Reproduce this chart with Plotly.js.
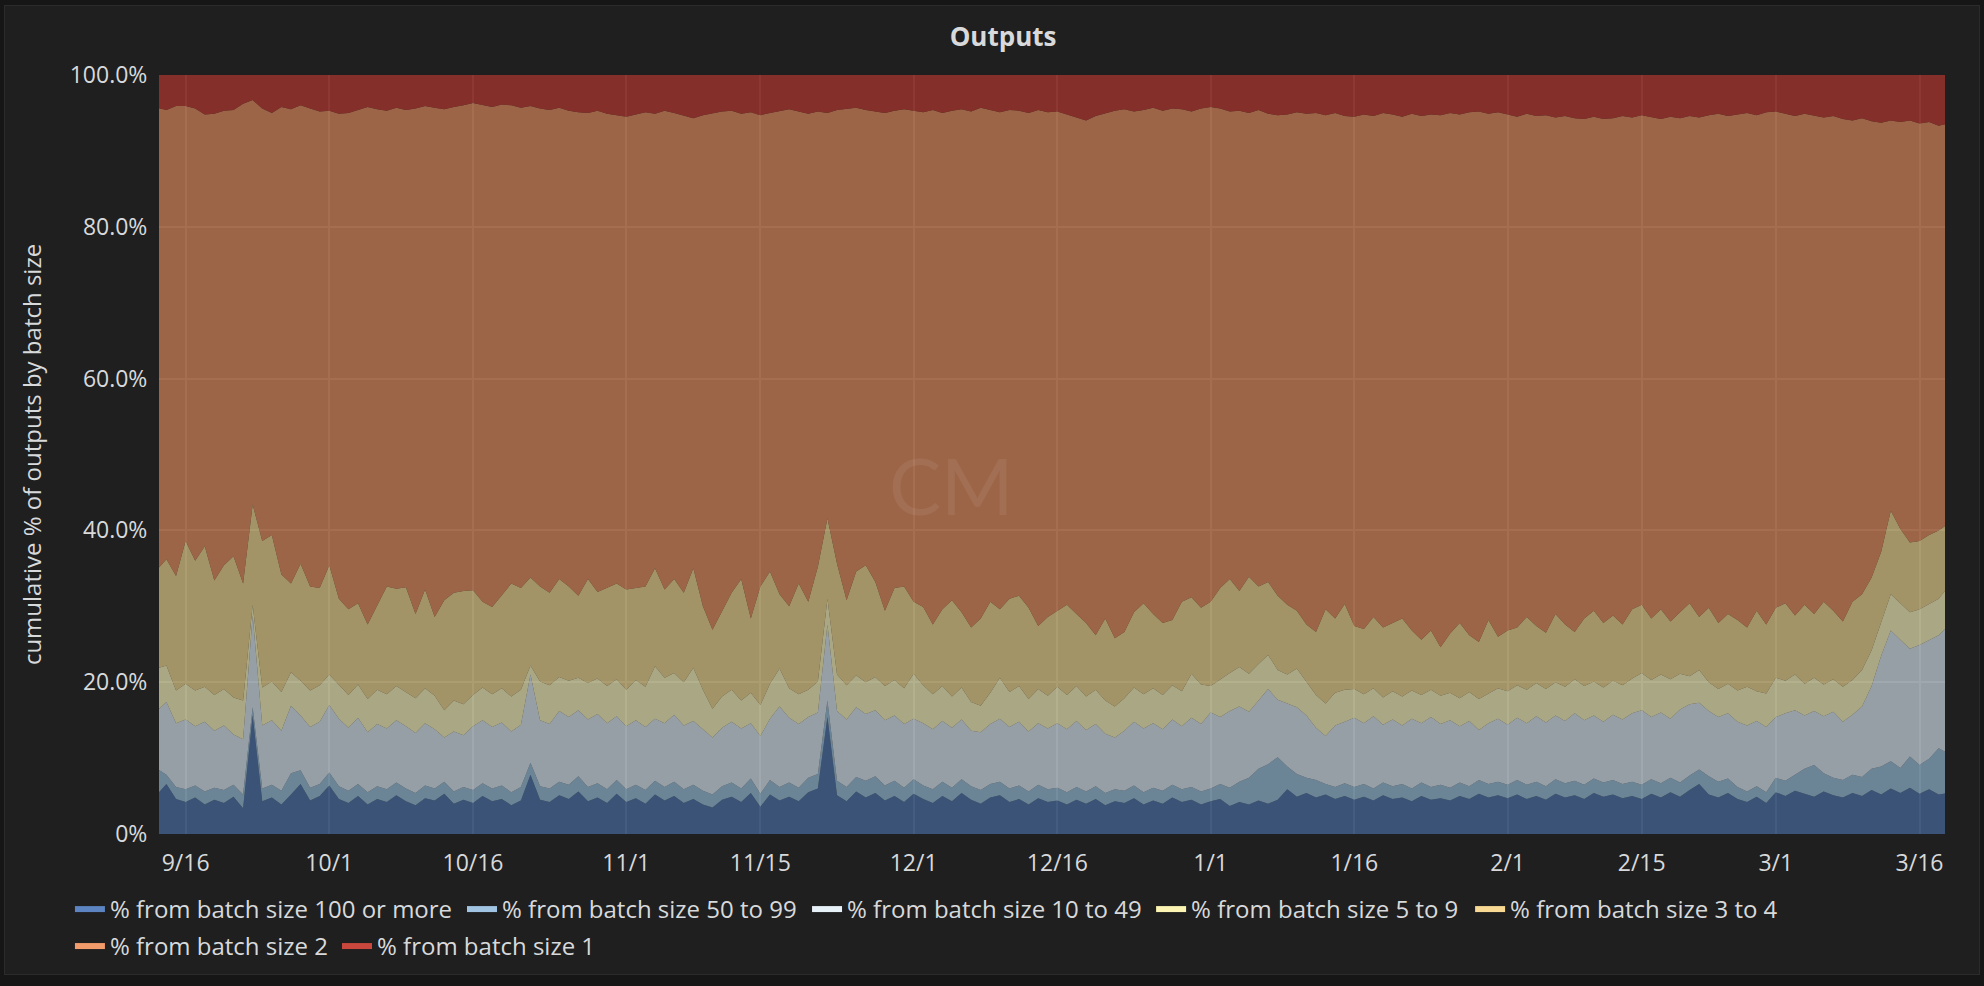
<!DOCTYPE html>
<html>
<head>
<meta charset="utf-8">
<script src="https://cdn.plot.ly/plotly-3.0.1.min.js"></script>
<style>
  html, body { margin: 0; padding: 0; background: #161617; overflow: hidden; }
  #panel { position: absolute; left: 4px; top: 5px; width: 1974px; height: 968px;
           border: 1px solid #2b2b2c; background: #1f1f20; }
  #chart { width: 1974px; height: 968px; }
</style>
</head>
<body>
<div id="panel"><div id="chart"></div></div>
<script>
// ---- Data: daily readings, 2017-09-13 .. 2018-03-19 (cumulative % of outputs) ----
const startDate = [2017, 8, 13]; // year, month index, day

// cumulative % from batch size >= 100
const cumBatch100 = [
  5.2, 6.6, 4.6, 4.2, 4.8, 3.9, 4.5, 4.1, 4.9, 3.4,
  15.6, 4.3, 4.8, 3.9, 5.2, 6.6, 4.4, 5.0, 6.4, 4.6,
  4.1, 5.0, 3.9, 4.6, 4.2, 5.1, 4.3, 3.8, 4.7, 4.4,
  5.3, 4.0, 4.5, 4.1, 5.0, 4.3, 4.6, 3.8, 4.4, 7.8,
  4.5, 4.2, 5.1, 4.6, 5.6, 4.3, 4.8, 4.1, 5.3, 4.2,
  4.7, 4.0, 5.2, 4.4, 5.0, 4.1, 4.6, 3.9, 3.5, 4.5,
  4.9, 4.2, 5.4, 3.6, 5.2, 4.4, 4.9, 4.3, 5.5, 6.0,
  15.4, 5.1, 4.3, 5.6, 4.8, 5.4, 4.4, 5.0, 4.2, 5.3,
  4.6, 4.1, 5.0, 4.3, 5.4, 4.5, 4.0, 4.8, 5.1, 4.2,
  4.6, 3.9, 4.7, 4.2, 4.4, 3.9, 4.5, 4.0, 4.6, 3.8,
  4.3, 4.1, 4.7, 3.9, 4.4, 4.0, 4.8, 4.2, 4.5, 3.9,
  4.3, 4.6, 3.7, 4.2, 3.9, 4.4, 4.0, 4.5, 5.9, 4.9,
  5.4, 4.8, 5.2, 4.6, 5.0, 4.5, 4.9, 4.4, 5.1, 4.6,
  4.8, 4.3, 5.0, 4.5, 4.7, 4.4, 5.0, 4.6, 5.3, 4.8,
  5.1, 4.7, 5.2, 4.6, 5.0, 4.5, 5.3, 4.8, 5.1, 4.6,
  5.4, 4.9, 5.2, 4.7, 5.0, 4.6, 5.3, 4.8, 5.5, 4.9,
  5.8, 6.6, 5.2, 4.8, 5.4, 4.6, 4.2, 4.9, 4.1, 5.5,
  5.0, 5.7, 5.3, 4.9, 5.6, 5.1, 4.8, 5.4, 5.0, 5.8,
  5.2, 6.0, 5.4, 6.1, 5.3, 5.9, 5.2, 5.4
];

// cumulative % from batch size >= 50
const cumBatch50 = [
  8.6, 7.8, 6.2, 5.9, 6.4, 5.6, 6.1, 5.8, 6.5, 5.2,
  16.7, 6.0, 6.5, 5.7, 8.0, 8.4, 6.1, 6.6, 8.1, 6.3,
  5.7, 6.6, 5.5, 6.3, 5.9, 6.8, 6.0, 5.4, 6.4, 6.0,
  6.9, 5.6, 6.2, 5.8, 6.7, 6.0, 6.4, 5.5, 6.2, 9.4,
  6.3, 6.0, 6.9, 6.5, 7.6, 6.2, 6.7, 5.9, 7.1, 5.9,
  6.5, 5.8, 7.0, 6.2, 6.9, 5.9, 6.5, 5.7, 5.2, 6.3,
  6.8, 6.0, 7.3, 5.3, 7.1, 6.2, 6.8, 6.1, 7.4, 7.9,
  17.6, 7.0, 6.2, 7.5, 7.0, 7.6, 6.4, 7.0, 6.1, 7.2,
  6.4, 5.9, 6.9, 6.1, 7.2, 6.3, 5.8, 6.6, 6.9, 6.0,
  6.4, 5.6, 6.5, 5.9, 6.1, 5.5, 6.2, 5.6, 6.3, 5.4,
  5.9, 5.7, 6.4, 5.5, 6.1, 5.7, 6.5, 5.9, 6.2, 5.6,
  6.0, 6.6, 6.1, 6.9, 7.4, 8.6, 9.2, 10.1, 8.9, 7.9,
  7.4, 7.1, 6.6, 6.2, 6.7, 6.2, 6.6, 6.0, 6.8, 6.3,
  6.6, 6.0, 6.8, 6.2, 6.5, 6.1, 6.8, 6.3, 7.1, 6.6,
  6.9, 6.5, 7.1, 6.5, 6.9, 6.3, 7.2, 6.7, 7.0, 6.5,
  7.3, 6.8, 7.1, 6.6, 6.9, 6.5, 7.2, 6.7, 7.4, 6.8,
  7.7, 8.5, 7.6, 6.9, 7.3, 6.2, 5.6, 6.3, 5.5, 7.4,
  7.0, 7.8, 8.6, 9.1, 8.0, 7.4, 7.1, 7.8, 7.5, 8.6,
  8.9, 9.6, 8.7, 10.2, 9.1, 9.9, 11.3, 10.6
];

// cumulative % from batch size >= 10
const cumBatch10 = [
  16.2, 17.4, 14.6, 15.1, 14.2, 14.8, 13.6, 14.3, 13.1, 12.5,
  28.8, 14.3, 15.0, 13.6, 16.9, 15.6, 14.1, 14.8, 17.0, 15.2,
  14.0, 15.3, 13.4, 14.5, 13.9, 15.0, 14.2, 13.3, 14.6, 13.8,
  12.7, 13.5, 13.0, 14.2, 15.0, 14.1, 14.7, 13.5, 14.4, 21.0,
  15.0, 14.5, 16.2, 15.4, 16.3, 15.1, 15.8, 14.6, 15.5, 14.2,
  15.0, 14.1, 15.2, 14.6, 15.7, 14.3, 14.9, 13.8, 12.7, 14.0,
  14.8, 13.9, 14.6, 12.9, 15.2, 16.8, 15.3, 14.5, 15.4, 16.0,
  27.6, 16.2, 15.1, 16.7, 15.8, 16.3, 15.0, 15.6, 14.5, 15.2,
  14.6, 13.8, 14.9, 14.0, 15.1, 13.6, 13.4, 14.5, 15.2, 14.1,
  14.8, 13.5, 14.6, 13.9, 14.6, 13.8, 14.9, 13.7, 14.5, 13.2,
  12.7, 13.6, 14.8, 13.9, 14.6, 13.8, 15.1, 14.2, 15.3, 14.5,
  16.0, 15.4, 16.2, 16.8, 16.1, 17.6, 19.1, 17.7, 17.2, 16.7,
  15.6, 14.0, 12.9, 14.3, 14.8, 15.3, 14.6, 15.5, 14.4, 15.1,
  14.3, 15.2, 14.6, 15.4, 14.5, 15.0, 14.2, 14.9, 13.7, 14.6,
  15.2, 14.4, 15.3, 14.6, 15.5, 14.7, 15.6, 14.9, 15.9, 15.0,
  15.6, 14.8, 15.7, 15.1, 15.9, 16.3, 15.4, 16.0, 15.2, 16.4,
  17.1, 17.3, 16.2, 15.4, 15.9, 14.8, 14.3, 14.9, 14.1, 15.4,
  15.9, 16.3, 15.6, 16.2, 15.5, 16.1, 14.8, 15.7, 16.8, 19.5,
  23.5, 26.8, 25.6, 24.4, 24.9, 25.6, 26.2, 27.4
];

// cumulative % from batch size >= 5
const cumBatch5 = [
  21.8, 22.2, 18.9, 19.8, 18.9, 19.4, 18.3, 19.1, 18.0, 17.6,
  30.2, 19.3, 20.1, 18.7, 21.3, 20.2, 18.9, 19.6, 21.0, 19.6,
  18.3, 19.7, 17.8, 19.0, 18.4, 19.5, 18.7, 17.9, 19.2, 18.2,
  16.3, 17.6, 17.1, 18.3, 19.3, 18.4, 19.2, 18.1, 19.0, 22.2,
  20.1, 19.6, 20.7, 20.2, 20.6, 19.9, 20.5, 19.5, 20.4, 19.0,
  20.3, 19.4, 22.1, 20.6, 21.2, 20.0, 21.9, 19.0, 16.5, 18.1,
  19.0, 17.6, 18.6, 17.0, 19.8, 21.8, 19.2, 18.4, 19.0, 20.1,
  31.0, 21.0, 19.6, 20.9, 20.0, 20.7, 19.5, 20.3, 19.2, 21.1,
  19.6, 18.4, 19.5, 18.1, 19.3, 17.4, 16.9, 18.6, 20.6, 18.7,
  19.5, 17.8, 19.1, 18.2, 19.4, 18.3, 19.5, 18.1, 19.0, 17.6,
  16.8, 17.9, 19.3, 18.4, 19.2, 18.3, 19.6, 18.8, 21.1, 19.7,
  19.5, 20.4, 21.2, 22.0, 21.1, 22.4, 23.6, 21.6, 21.0, 21.8,
  20.1, 18.3, 17.2, 18.6, 19.0, 19.1, 18.4, 19.2, 18.0, 18.8,
  18.1, 18.9, 18.3, 19.0, 18.2, 18.6, 17.9, 18.7, 17.8, 18.5,
  19.2, 18.8, 19.6, 19.0, 19.9, 19.1, 20.0, 19.4, 20.4, 19.5,
  20.1, 19.3, 20.2, 19.6, 20.5, 21.2, 20.3, 21.0, 20.4, 21.1,
  20.8, 21.6, 20.0, 19.1, 19.8, 18.9, 19.4, 18.8, 18.5, 20.6,
  20.2, 21.0, 19.8, 20.6, 19.7, 20.4, 19.4, 20.3, 21.6, 24.2,
  28.0, 31.6, 30.4, 29.2, 29.6, 30.3, 31.0, 32.6
];

// cumulative % from batch size >= 3
const cumBatch3 = [
  34.8, 36.2, 34.0, 38.6, 36.0, 37.9, 33.4, 35.4, 36.6, 33.0,
  43.4, 38.6, 39.4, 34.2, 33.0, 35.6, 32.6, 32.4, 35.4, 31.0,
  29.6, 30.4, 27.6, 30.2, 32.6, 32.3, 32.5, 29.0, 32.2, 28.6,
  30.8, 31.8, 32.0, 32.1, 30.6, 29.9, 31.5, 33.0, 32.4, 33.8,
  32.6, 31.8, 33.6, 32.6, 31.4, 33.6, 31.9, 32.4, 33.0, 32.2,
  32.4, 32.6, 35.0, 32.2, 33.6, 31.8, 35.0, 30.0, 26.9, 29.3,
  31.8, 33.6, 28.4, 32.6, 34.6, 31.6, 30.0, 33.0, 30.6, 35.2,
  41.6, 35.6, 30.8, 34.6, 35.4, 33.2, 29.4, 32.4, 32.6, 30.6,
  29.9, 27.6, 29.6, 30.8, 29.2, 27.2, 28.4, 30.6, 29.6, 31.0,
  31.4, 29.8, 27.4, 28.6, 29.4, 30.2, 29.0, 27.8, 26.2, 28.4,
  25.8, 26.6, 29.2, 30.4, 29.0, 27.8, 28.2, 30.6, 31.2, 29.8,
  30.6, 32.4, 33.6, 32.0, 33.9, 32.6, 33.2, 31.4, 30.2, 29.4,
  27.6, 26.6, 29.6, 28.4, 30.3, 27.4, 27.0, 28.6, 27.2, 27.8,
  28.4, 26.8, 25.6, 26.8, 24.6, 26.4, 27.8, 26.2, 25.3, 28.2,
  26.0, 26.8, 27.2, 28.6, 27.4, 26.5, 29.0, 27.6, 26.6, 28.4,
  29.4, 27.8, 28.8, 27.6, 29.6, 30.2, 28.4, 29.6, 28.0, 29.2,
  30.4, 28.6, 29.8, 27.8, 29.0, 28.2, 27.2, 29.4, 27.6, 29.8,
  30.4, 28.8, 30.2, 29.0, 30.6, 29.4, 28.0, 30.6, 31.6, 33.8,
  37.2, 42.6, 40.2, 38.4, 38.6, 39.4, 40.0, 40.9
];

// cumulative % from batch size >= 2
const cumBatch2 = [
  95.7, 95.4, 95.9, 95.9, 95.6, 94.8, 94.9, 95.3, 95.4, 96.2,
  96.7, 95.6, 95.0, 95.8, 95.5, 96.0, 95.6, 95.2, 95.3, 94.9,
  95.0, 95.4, 95.8, 95.5, 95.3, 95.7, 95.4, 95.6, 95.9, 95.7,
  95.5, 95.8, 96.0, 96.3, 96.0, 95.8, 96.1, 96.0, 95.7, 95.9,
  95.6, 95.4, 95.7, 95.3, 95.1, 95.0, 95.3, 94.9, 94.7, 94.5,
  94.8, 95.1, 94.9, 95.3, 95.0, 94.6, 94.3, 94.7, 95.0, 95.2,
  95.3, 94.9, 95.1, 94.7, 95.0, 95.3, 95.5, 95.2, 94.9, 95.2,
  95.0, 95.4, 95.5, 95.7, 95.4, 95.2, 95.0, 95.3, 95.5, 95.3,
  95.1, 95.4, 95.0, 95.3, 95.5, 95.2, 95.7, 95.4, 95.1, 95.4,
  95.3, 95.0, 95.4, 95.1, 95.2, 94.8, 94.4, 94.0, 94.6, 95.0,
  95.3, 95.5, 95.2, 95.4, 95.7, 95.3, 95.6, 95.5, 95.2, 95.6,
  95.8, 95.6, 95.2, 95.3, 95.0, 95.4, 94.9, 94.7, 94.8, 95.1,
  94.9, 95.0, 94.7, 95.0, 94.6, 94.5, 94.8, 94.6, 95.0, 94.8,
  94.5, 94.9, 94.6, 94.8, 94.7, 95.0, 94.8, 95.1, 95.2, 94.9,
  95.1, 94.8, 94.5, 94.9, 94.6, 94.7, 94.4, 94.6, 94.3, 94.2,
  94.5, 94.2, 94.3, 94.6, 94.4, 94.7, 94.5, 94.2, 94.5, 94.3,
  94.6, 94.4, 94.7, 94.9, 94.6, 94.8, 95.0, 94.7, 95.1, 95.2,
  94.9, 94.6, 94.9, 94.7, 94.4, 94.6, 94.2, 94.0, 94.3, 93.9,
  93.7, 94.0, 93.8, 94.0, 93.6, 93.8, 93.3, 93.6
];

const seriesNames = [
  '% from batch size 100 or more',
  '% from batch size 50 to 99',
  '% from batch size 10 to 49',
  '% from batch size 5 to 9',
  '% from batch size 3 to 4',
  '% from batch size 2',
  '% from batch size 1'
];
const legendColors = ['#5b84c1', '#a0c4e2', '#e6f0f7', '#fbf4b3', '#f7d994', '#f39c6b', '#c9473d'];
const fillColors = [
  'rgba(71,105,155,0.7)', 'rgba(140,177,201,0.7)', 'rgba(202,214,223,0.7)',
  'rgba(230,225,175,0.7)', 'rgba(220,198,135,0.7)', 'rgba(210,131,88,0.7)',
  'rgba(175,54,45,0.7)'
];

const tickDates = ['2017-09-16','2017-10-01','2017-10-16','2017-11-01','2017-11-15','2017-12-01',
  '2017-12-16','2018-01-01','2018-01-16','2018-02-01','2018-02-15','2018-03-01','2018-03-16'];
const tickLabels = ['9/16','10/1','10/16','11/1','11/15','12/1','12/16','1/1','1/16','2/1','2/15','3/1','3/16'];
const yTickVals = [0, 20, 40, 60, 80, 100];
const yTickLabels = ['0%', '20.0%', '40.0%', '60.0%', '80.0%', '100.0%'];

// ---- Build traces ----
const n = cumBatch100.length;
const dates = [];
for (let i = 0; i < n; i++) {
  const d = new Date(Date.UTC(startDate[0], startDate[1], startDate[2] + i));
  dates.push(d.toISOString().slice(0, 10));
}
const cumulative = [cumBatch100, cumBatch50, cumBatch10, cumBatch5, cumBatch3, cumBatch2];
const shares = [];
for (let k = 0; k < cumulative.length; k++) {
  const cur = cumulative[k], prev = k > 0 ? cumulative[k - 1] : null;
  shares.push(cur.map((v, i) => +(prev ? v - prev[i] : v).toFixed(2)));
}
shares.push(cumBatch2.map(v => +(100 - v).toFixed(2))); // remainder: batch size 1

const traces = [];
shares.forEach((s, k) => {
  traces.push({
    type: 'scatter', mode: 'lines', x: dates, y: s, name: seriesNames[k],
    stackgroup: 'one', line: { width: 0 }, fillcolor: fillColors[k],
    showlegend: false, hoverinfo: 'skip'
  });
});

// legend entries laid out like the reference: 5 on the first row, 2 on the second
const legendIds = ['legend', 'legend2', 'legend3', 'legend4', 'legend5', 'legend6', 'legend7'];
const legendX = [0.0329, 0.2315, 0.4063, 0.5806, 0.7422, 0.0329, 0.1682];
const legendY = [0.0899, 0.0899, 0.0899, 0.0899, 0.0899, 0.0517, 0.0517];
seriesNames.forEach((nm, k) => {
  traces.push({
    type: 'scatter', mode: 'lines', x: [null], y: [null], name: nm, legend: legendIds[k],
    line: { color: legendColors[k], width: 6 }, showlegend: true, hoverinfo: 'skip'
  });
});

const font = 'Open Sans, sans-serif';
const layout = {
  width: 1974, height: 968,
  paper_bgcolor: '#1f1f20', plot_bgcolor: '#1f1f20',
  margin: { l: 154, r: 34, t: 69, b: 140 },
  font: { family: font, color: '#d8d9da', size: 23 },
  title: { text: 'Outputs', font: { family: font, size: 26, color: '#d8d9da', weight: 'bold' },
           x: 0.5056, xref: 'container', xanchor: 'center', y: 0.968, yref: 'container', yanchor: 'middle' },
  xaxis: {
    type: 'date', range: ['2017-09-13 05:20', '2018-03-18 15:50'],
    tickmode: 'array', tickvals: tickDates, ticktext: tickLabels,
    showgrid: true, gridcolor: '#3f3f3f', gridwidth: 2, zeroline: false, showline: false,
    ticks: 'outside', ticklen: 8, tickcolor: 'rgba(0,0,0,0)',
    tickfont: { family: font, size: 23, color: '#d8d9da' }
  },
  yaxis: {
    range: [0, 100], tickmode: 'array', tickvals: yTickVals, ticktext: yTickLabels,
    showgrid: true, gridcolor: '#3f3f3f', gridwidth: 2, zeroline: false, showline: false,
    ticks: 'outside', ticklen: 6, tickcolor: 'rgba(0,0,0,0)',
    tickfont: { family: font, size: 23, color: '#d8d9da' },
    title: { text: 'cumulative % of outputs by batch size', standoff: 21,
             font: { family: font, size: 24, color: '#d8d9da' } }
  },
  annotations: [{
    text: 'CM', xref: 'paper', yref: 'paper', x: 0.444, y: 0.46, showarrow: false,
    font: { family: 'Lato, sans-serif', size: 78, color: 'rgba(255,255,255,0.07)' }
  }],
  showlegend: true
};
legendIds.forEach((id, k) => {
  layout[id] = {
    orientation: 'h', xref: 'container', yref: 'container', x: legendX[k], y: legendY[k],
    xanchor: 'left', yanchor: 'top', bgcolor: 'rgba(0,0,0,0)', borderwidth: 0,
    font: { family: font, size: 24, color: '#d8d9da' }, itemwidth: 30
  };
});

Plotly.newPlot('chart', traces, layout, { displayModeBar: false, staticPlot: true });
</script>
</body>
</html>
